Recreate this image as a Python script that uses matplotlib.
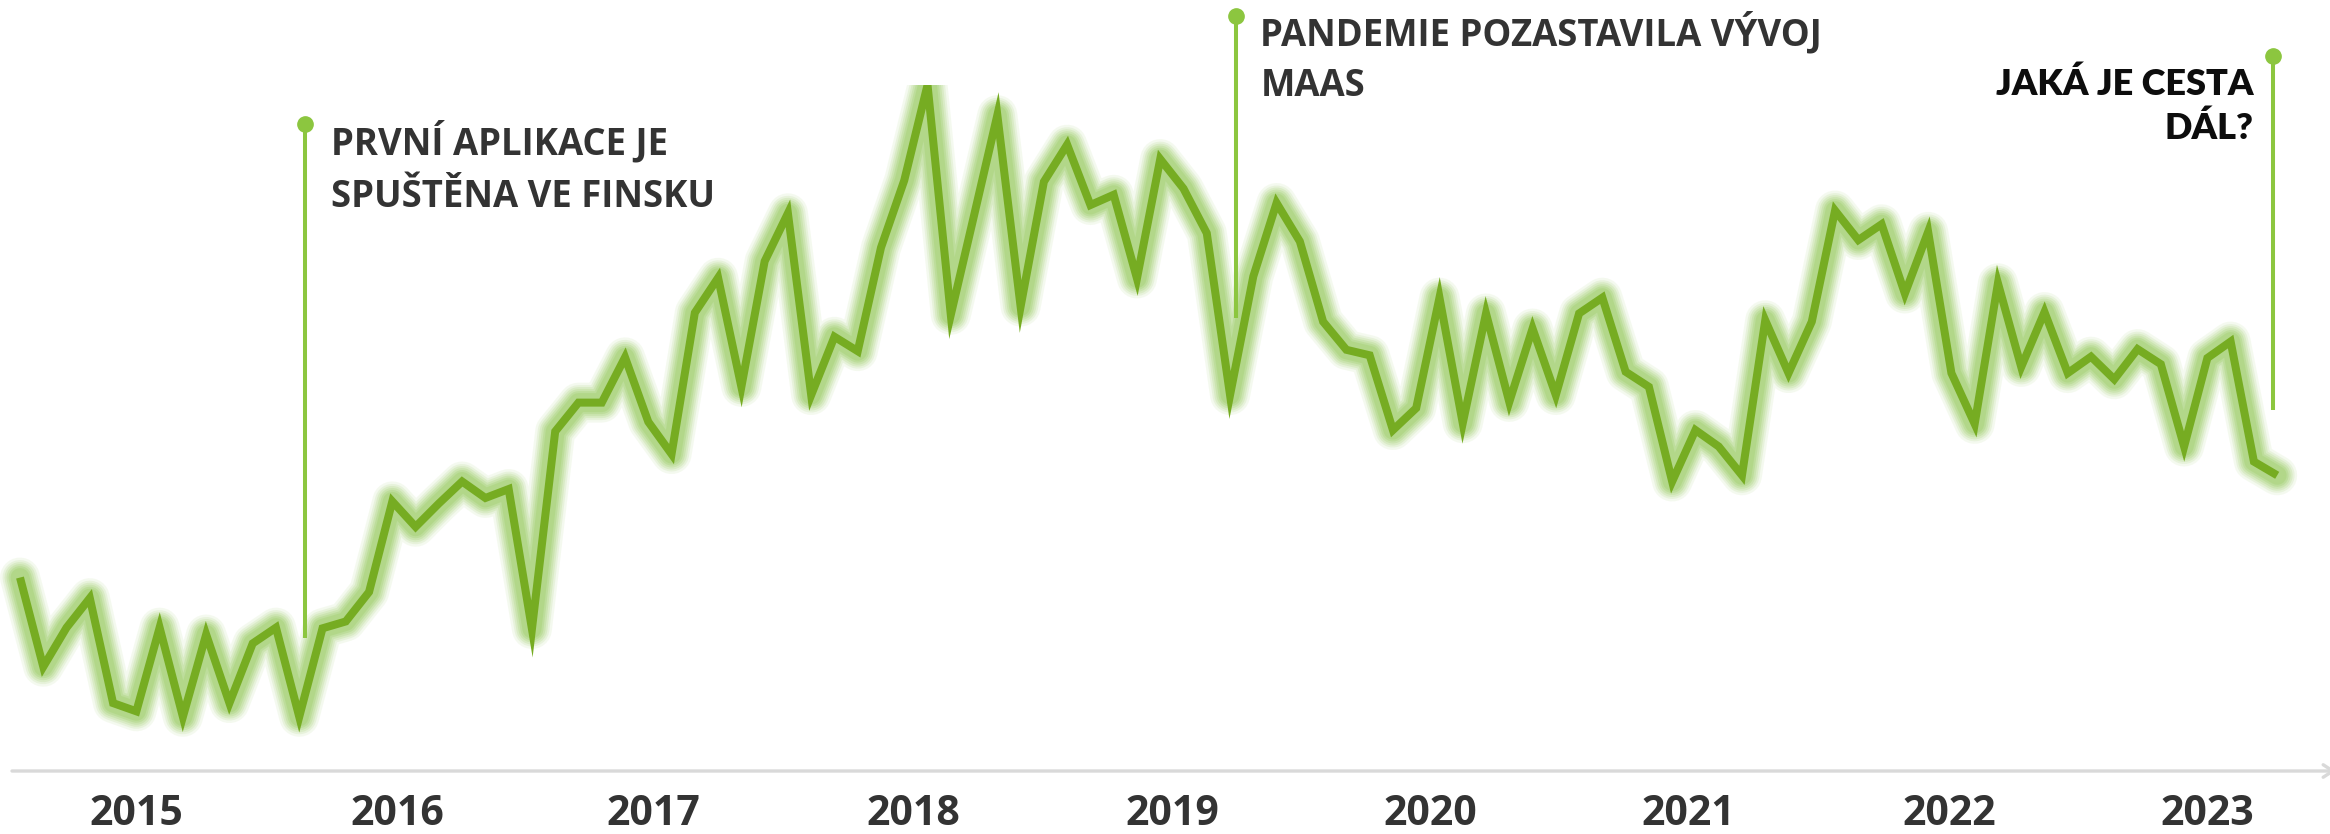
import numpy as np
import matplotlib
matplotlib.use("Agg")
import matplotlib.pyplot as plt

# ---- data (relative interest) ----
values = [28.2, 15.2, 20.9, 25.2, 9.9, 8.7, 20.9, 7.9, 19.9, 9.9, 18.6, 20.9,
          7.9, 20.8, 21.8, 26.1, 39.3, 35.6, 39.0, 42.2, 39.8, 41.1, 20.7, 49.5,
          53.7, 53.7, 60.3, 50.9, 46.2, 66.8, 71.9, 56.0, 74.3, 81.3, 54.8, 63.3,
          61.2, 76.3, 86.1, 100.0, 66.5, 81.0, 95.6, 67.7, 85.9, 91.3, 82.5, 84.0,
          71.8, 89.2, 84.9, 78.4, 54.8, 72.1, 82.8, 77.2, 65.5, 61.4, 60.6, 49.7,
          52.9, 69.0, 50.7, 66.7, 53.8, 64.5, 54.8, 66.7, 69.0, 58.2, 56.0, 42.2,
          49.7, 47.3, 43.1, 65.7, 58.0, 65.5, 81.7, 77.4, 79.7, 69.6, 78.6, 58.0,
          50.6, 71.1, 58.9, 66.9, 58.0, 60.4, 57.1, 61.5, 59.3, 47.3, 60.2, 62.6,
          45.1, 43.1]
year_labels = ["2015", "2016", "2017", "2018", "2019", "2020", "2021", "2022", "2023"]
year_pos = [5.0, 16.2, 27.2, 38.4, 49.5, 60.6, 71.7, 82.9, 94.0]

ann_texts = [["PRVNÍ APLIKACE JE", "SPUŠTĚNA VE FINSKU"],
             ["PANDEMIE POZASTAVILA VÝVOJ", "MAAS"],
             ["JAKÁ JE CESTA", "DÁL?"]]

x = np.arange(len(values))

W, H = 2330, 834
fig = plt.figure(figsize=(W / 100, H / 100), dpi=100)
fig.patch.set_facecolor("white")
ax = fig.add_axes([0, 63 / H, 1, 686 / H])
ax.set_xlim(-20 / 23.27, 2310 / 23.27)
ax.set_ylim(0, 100)
ax.axis("off")

LINE = "#76ac22"
GLOW = "#9ccd66"
ANN = "#8cc63f"

# glow
for w, a in [(40, 0.10), (35, 0.14), (31, 0.18), (27, 0.22), (23, 0.28), (19, 0.32)]:
    ax.plot(x, values, color=GLOW, lw=w * 0.72, alpha=a, solid_joinstyle="round",
            solid_capstyle="round", zorder=2)
ax.plot(x, values, color=LINE, lw=8 * 0.72, solid_joinstyle="miter",
        solid_capstyle="butt", zorder=3)

# axis line with chevron
ax.annotate("", xy=(2336 / 23.27 - 20 / 23.27, 0), xytext=(-8 / 23.27, 0),
            arrowprops=dict(arrowstyle="->,head_length=0.7,head_width=0.45",
                            color="#d9d9d9", lw=2.4, shrinkA=0, shrinkB=0),
            annotation_clip=False, zorder=1)

# year labels
for p, lab in zip(year_pos, year_labels):
    ax.text(p, -7.9, lab, ha="center", va="baseline", fontsize=29.5,
            fontfamily="Open Sans", fontweight="bold", color="#333333", clip_on=False)

# annotations
ann_x = [12.25, 52.26, 96.8]
ann_top = [94.3, 110.0, 104.2]
ann_bot = [19.4, 66.0, 52.6]
for xa, yt, yb in zip(ann_x, ann_top, ann_bot):
    ax.plot([xa, xa], [yb, yt], color=ANN, lw=2.9, clip_on=False, zorder=4,
            solid_capstyle="butt")
    ax.plot([xa], [yt], marker="o", ms=11, color=ANN, mec=ANN, clip_on=False, zorder=5)

txt_kw = dict(fontsize=26.3, fontfamily="Open Sans", fontweight="bold",
              color="#333333", va="center", clip_on=False)
ax.text(13.37, 91.7, ann_texts[0][0], ha="left", **txt_kw)
ax.text(13.37, 83.7, ann_texts[0][1], ha="left", **txt_kw)
ax.text(53.3, 107.5, ann_texts[1][0], ha="left", **txt_kw)
ax.text(53.3, 99.9, ann_texts[1][1], ha="left", **txt_kw)
kw3 = dict(fontsize=26, fontfamily="Lato", fontweight="heavy", color="#0d0d0d",
           va="center", ha="right", clip_on=False)
ax.text(96.0, 100.1, ann_texts[2][0], **kw3)
ax.text(96.0, 93.7, ann_texts[2][1], **kw3)

fig.savefig("out.png", dpi=100, facecolor="white")
